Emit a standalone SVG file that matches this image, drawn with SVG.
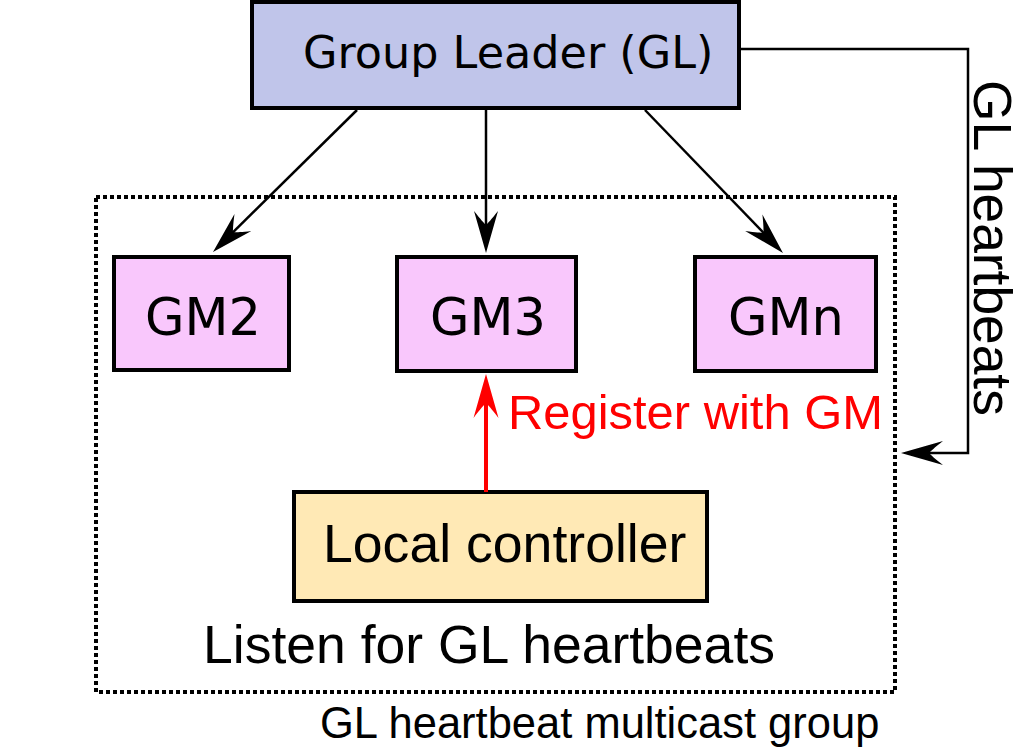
<svg xmlns="http://www.w3.org/2000/svg" width="1022" height="751" viewBox="0 0 1022 751">
<style>
.box{stroke:#000;stroke-width:4}
.dv{font-family:"DejaVu Sans",sans-serif;fill:#000}
.ls{font-family:"Liberation Sans",Arial,sans-serif;fill:#000}
.con{fill:none;stroke:#000;stroke-width:2.5}
</style>
<defs>
<marker id="ah" markerUnits="userSpaceOnUse" orient="auto" refX="-8" refY="0" overflow="visible" markerWidth="50" markerHeight="30">
<path d="M0,0 L-42,-12 C-33,-5 -30,-2 -28,0 C-30,2 -33,5 -42,12 Z" fill="#000"/>
</marker>
<marker id="ahr" markerUnits="userSpaceOnUse" orient="auto" refX="-8" refY="0" overflow="visible" markerWidth="50" markerHeight="30">
<path d="M0,0 L-44,-12.5 C-34,-5 -31,-2 -29,0 C-31,2 -34,5 -44,12.5 Z" fill="#f00"/>
</marker>
</defs>
<rect x="96" y="197" width="799" height="495" fill="none" stroke="#000" stroke-width="4" stroke-dasharray="4 3"/>
<g id="GL"><rect class="box" x="252" y="2" width="487" height="106" fill="#c0c5ea"/><text class="dv" x="303" y="68" font-size="44.5">Group Leader (GL)</text></g>
<g id="GM2"><rect class="box" x="114" y="257" width="175" height="113" fill="#f9c7fc"/><text class="dv" x="145" y="335" font-size="51">GM2</text></g>
<g id="GM3"><rect class="box" x="397" y="257" width="179" height="114" fill="#f9c7fc"/><text class="dv" x="430" y="335" font-size="51">GM3</text></g>
<g id="GMn"><rect class="box" x="695" y="257" width="181" height="114" fill="#f9c7fc"/><text class="dv" x="728" y="335" font-size="51">GMn</text></g>
<g id="LC"><rect class="box" x="294" y="492" width="413" height="109" fill="#ffe9b5"/><text class="ls" x="323" y="562" font-size="53.6">Local controller</text></g>
<g id="connectors">
<path class="con" d="M357,110 L218.7,246.4" marker-end="url(#ah)"/>
<path class="con" d="M486,110 L486,245" marker-end="url(#ah)"/>
<path class="con" d="M645,110 L777.4,247.2" marker-end="url(#ah)"/>
<path class="con" d="M741,49 L968,49 L968,453 L909,453" marker-end="url(#ah)"/>
<path d="M486,492 L486,382" fill="none" stroke="#f00" stroke-width="4" marker-end="url(#ahr)"/>
</g>
<text class="ls" x="508" y="429" font-size="48.9" style="fill:#f00">Register with GM</text>
<text class="ls" x="203" y="663" font-size="53.5">Listen for GL heartbeats</text>
<text class="ls" x="320" y="738" font-size="43.5">GL heartbeat multicast group</text>
<text class="ls" font-size="53.3" transform="translate(974,80) rotate(90)">GL heartbeats</text>
</svg>
